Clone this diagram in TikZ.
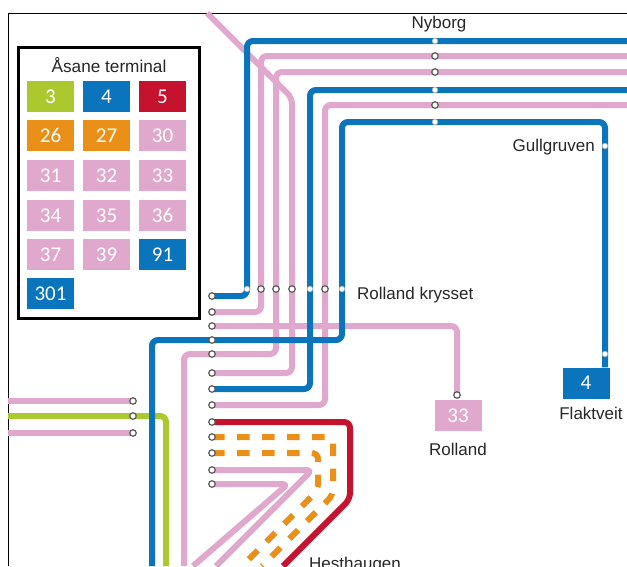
\documentclass[tikz,border=0pt]{standalone}
\usepackage{fontspec}
\setmainfont{Liberation Sans}
\newfontfamily\tilefont{Carlito}
\usetikzlibrary{backgrounds}
\definecolor{lineblue}{HTML}{0A74BC}
\definecolor{linepink}{HTML}{E0A8CC}
\definecolor{linegreen}{HTML}{ABC92F}
\definecolor{linered}{HTML}{C4122F}
\definecolor{lineorange}{HTML}{EA9018}
\tikzstyle{stop}=[circle,draw=black!65,fill=white,line width=1.2pt,inner sep=0pt,minimum size=6.5pt]
\tikzstyle{bluestop}=[circle,draw=black!25,fill=white,line width=0.6pt,inner sep=0pt,minimum size=5.5pt]
\tikzstyle{tile}=[minimum width=47pt,minimum height=31pt,inner sep=0pt,text=white,font=\tilefont\fontsize{21}{21}\selectfont]
\tikzstyle{place}=[inner sep=0pt,text=black!85,font=\fontsize{17}{18}\selectfont]
\tikzstyle{route}=[line width=6pt,rounded corners=6pt]
\tikzstyle{dashroute}=[route,lineorange,dash pattern=on 12.5pt off 12.5pt]

\begin{document}
\begin{tikzpicture}[x=1pt,y=-1pt]
\useasboundingbox (0,0) rectangle (627,566);
% legend
\node[draw=black,line width=3pt,minimum width=181pt,minimum height=271pt] (legend) at (108.5,182.5) {};
\node[place,font=\fontsize{17.2}{18}\selectfont] (title) at (109,65.5) {Åsane terminal};
\foreach \px/\py/\col/\num in {50.5/96.5/linegreen/3,106.5/96.5/lineblue/4,162.5/96.5/linered/5,
50.5/135.5/lineorange/26,106.5/135.5/lineorange/27,162.5/135.5/linepink/30,
50.5/175.5/linepink/31,106.5/175.5/linepink/32,162.5/175.5/linepink/33,
50.5/215.5/linepink/34,106.5/215.5/linepink/35,162.5/215.5/linepink/36,
50.5/254.5/linepink/37,106.5/254.5/linepink/39,162.5/254.5/lineblue/91,
50.5/293.5/lineblue/301}
  \node[tile,fill=\col] (t\num) at (\px,\py) {\num};
% stops along the left edge of the junction
\foreach \i/\py in {1/296,2/312,3/326,4/340,5/354,6/373,7/389,8/405,9/422,10/437,11/453,12/470,13/484}
  \node[stop] (L\i) at (212,\py) {};
\foreach \i/\px/\kind in {1/247/bluestop,2/261/stop,3/276/stop,4/292/stop,5/310/bluestop,6/325/stop,7/342/bluestop}
  \node[\kind] (K\i) at (\px,289) {};
\foreach \i/\py/\kind in {1/41/bluestop,2/56/stop,3/72/stop,4/90/bluestop,5/105/stop,6/122/bluestop}
  \node[\kind] (N\i) at (435,\py) {};
\foreach \i/\py in {1/401,2/416,3/433}
  \node[stop] (W\i) at (133,\py) {};
\node[bluestop] (G) at (605,146) {};
\node[bluestop] (F) at (605,354) {};
\node[stop] (R) at (457,395) {};
\node[tile,fill=linepink] (t33b) at (458,415.5) {33};
\node[tile,fill=lineblue] (t4b) at (586,383) {4};
% names
\node[place] (nyborg) at (439,24) {Nyborg};
\node[place,anchor=east] (gull) at (595,147) {Gullgruven};
\node[place,anchor=west] (krysset) at (357,295) {Rolland krysset};
\node[place] (rolland) at (458,449) {Rolland};
\node[place] (flakt) at (591,413) {Flaktveit};
\node[place,anchor=west] (hest) at (309,565) {Hesthaugen};
% free ends at the edges
\coordinate (E1) at (627,41);\coordinate (E2) at (627,56);\coordinate (E3) at (627,72);
\coordinate (E4) at (627,90);\coordinate (E5) at (627,105);
\coordinate (A1) at (8,401);\coordinate (A2) at (8,416);\coordinate (A3) at (8,433);
\coordinate (T1) at (207,13);
\begin{scope}[on background layer]
\draw[black,line width=1pt] (8,566)--(8,13)--(627,13);
\draw[route,linepink] (L2.center)-|(261,56)--(E2);
\draw[route,linepink] (L3.center)-|(R.center);
\draw[route,linepink] (184,566)|-(L5.center)-|(276,72)--(E3);
\draw[route,linepink] (T1)--(292,98)--(292,373)--(L6.center);
\draw[route,linepink] (L8.center)-|(325,105)--(E5);
\draw[route,linepink] (L12.center)--(312,470)--(216,566);
\draw[route,linepink] (L13.center)--(288,484)--(193,566);
\draw[route,linepink] (A1)--(W1.center);\draw[route,linepink] (A3)--(W3.center);
\draw[route,linegreen] (A2)--(W2.center)--(166,416)--(166,566);
\draw[dashroute] (L10.center)--(333,437)--(333,495)--(262,566);
\draw[dashroute] (L11.center)--(318,453)--(318,490)--(242,566);
\draw[route,linered] (L9.center)--(350,422)--(350,499)--(283,566);
\draw[route,lineblue] (L1.center)-|(247,41)--(E1);
\draw[route,lineblue] (L7.center)-|(310,90)--(E4);
\draw[route,lineblue] (152,566)|-(342,340)--(342,122)--(605,122)--(t4b.north-|F);
\end{scope}
\end{tikzpicture}
\end{document}
